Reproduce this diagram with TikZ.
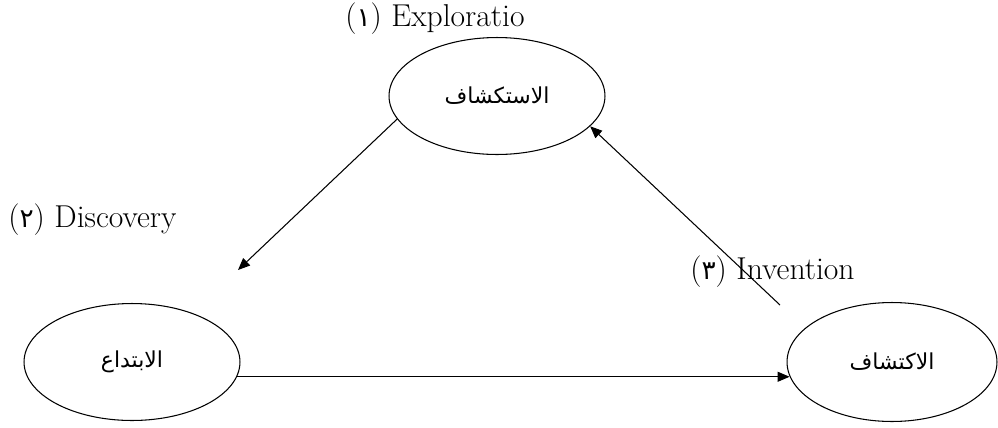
\documentclass[tikz,border=0pt]{standalone}
\usepackage{fontspec}
\usetikzlibrary{shapes.geometric,arrows.meta}
\newfontfamily\arabicfont[Script=Arabic]{DejaVu Sans}
\newfontfamily\digitfont{DejaVu Sans}
\TeXXeTstate=1
\begin{document}
\begin{tikzpicture}[x=0.02cm,y=-0.02cm,
  stage/.style={draw,ellipse,line width=0.6pt,inner sep=0pt,
    minimum width=4.32cm,minimum height=2.34cm,
    font=\arabicfont\fontsize{12.5}{14}\selectfont},
  lbl/.style={anchor=west,inner sep=0pt,font=\fontsize{18}{21}\selectfont},
  flow/.style={line width=0.6pt,-{Triangle[length=2.4mm,width=2mm]}}]
\useasboundingbox (0,0) rectangle (998,427);
\node[stage] (top) at (497,96) {\beginR الاستكشاف\endR};
\node[stage] (left) at (132,362) {\beginR الابتداع\endR};
\node[stage,minimum width=4.2cm,minimum height=2.38cm] (right) at (892,362) {\beginR الاكتشاف\endR};
\node[lbl] (l1) at (345,19) {({\digitfont\fontsize{15}{17}\selectfont ١}) Exploratio};
\node[lbl] (l2) at (8,220) {({\digitfont\fontsize{15}{17}\selectfont ٢}) Discovery};
\node[lbl] (l3) at (690,272) {({\digitfont\fontsize{15}{17}\selectfont ٣}) Invention};
\coordinate (e1) at (238,270);
\coordinate (s3) at (780,305);
\draw[flow] (top.193) -- (e1);
\draw[flow] (left.352) -- (right.188 |- left.352);
\draw[flow] (s3) -- (top.342);
\end{tikzpicture}
\end{document}
